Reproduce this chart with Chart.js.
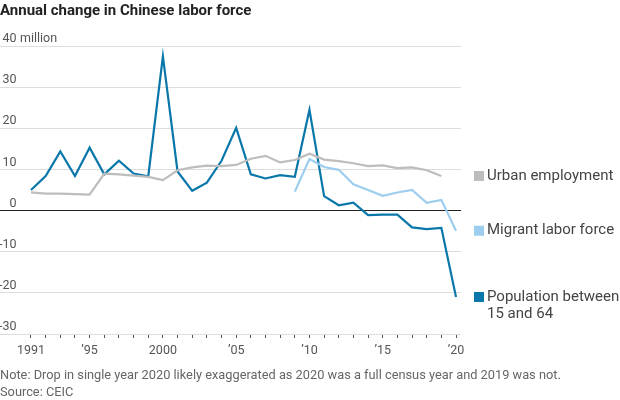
<!DOCTYPE html>
<html>
<head>
<meta charset="utf-8">
<script src="https://cdn.jsdelivr.net/npm/chart.js@4"></script>
<style>
  body { margin: 0; background: #fff; }
  #wrap { position: relative; width: 620px; height: 400px; font-family: Roboto, sans-serif; }
  #title { position: absolute; left: 0; top: 1px; font-size: 15px; font-weight: bold; color: #222; }
  #note { position: absolute; left: 0; top: 366px; font-size: 12.8px; color: #666; line-height: 17px; }
  canvas { position: absolute; left: 0; top: 0; }
</style>
</head>
<body>
<div id="wrap">
  <canvas id="chart" width="620" height="400"></canvas>
  <div id="title">Annual change in Chinese labor force</div>
  <div id="note">Note: Drop in single year 2020 likely exaggerated as 2020 was a full census year and 2019 was not.<br>Source: CEIC</div>
</div>
<script>
const years = [1991, 1992, 1993, 1994, 1995, 1996, 1997, 1998, 1999, 2000,
               2001, 2002, 2003, 2004, 2005, 2006, 2007, 2008, 2009, 2010,
               2011, 2012, 2013, 2014, 2015, 2016, 2017, 2018, 2019, 2020];
const urban = [4.4, 4.1, 4.1, 4.0, 3.9, 9.0, 8.8, 8.5, 8.2, 7.4,
               9.8, 10.5, 10.9, 10.8, 11.1, 12.6, 13.3, 11.7, 12.3, 13.8,
               12.4, 12.0, 11.5, 10.8, 11.0, 10.3, 10.5, 9.8, 8.4, null];
const migrant = [null, null, null, null, null, null, null, null, null, null,
                 null, null, null, null, null, null, null, null, 4.6, 12.5,
                 10.6, 9.9, 6.4, 5.0, 3.6, 4.4, 5.0, 1.9, 2.6, -4.9];
const population = [5.0, 8.4, 14.4, 8.4, 15.3, 8.8, 12.1, 9.0, 8.3, 37.5,
                    9.5, 4.8, 6.8, 12.1, 20.1, 8.8, 7.8, 8.6, 8.2, 24.5,
                    3.5, 1.3, 1.9, -1.1, -1.0, -1.0, -4.1, -4.5, -4.2, -21.0];
const xTickLabels = { 1991: '1991', 1995: '\u201995', 2000: '2000', 2005: '\u201905',
                      2010: '\u201910', 2015: '\u201915', 2020: '\u201920' };

const seriesNames = ['Urban employment', 'Migrant labor force', ['Population between', '15 and 64']];
const seriesColors = ['#bdbdbd', '#9dcdef', '#0a77aa'];
const seriesData = [urban, migrant, population];

function toPoints(values) {
    return years.map((y, i) => ({ x: y, y: values[i] }));
}

// draws "million" after the top tick and the legend at each line's last value
const extras = {
    id: 'extras',
    afterDraw(chart) {
        const ctx = chart.ctx;
        const yScale = chart.scales.y;
        ctx.save();
        ctx.font = '12.5px Roboto, sans-serif';
        ctx.fillStyle = '#555';
        ctx.textBaseline = 'middle';
        ctx.textAlign = 'left';
        ctx.fillText('million', 20, yScale.getPixelForValue(40) - 7);

        ctx.font = '15px Roboto, sans-serif';
        seriesData.forEach((vals, i) => {
            let last = null;
            for (let k = vals.length - 1; k >= 0; k--) {
                if (vals[k] !== null) { last = vals[k]; break; }
            }
            const py = yScale.getPixelForValue(last);
            ctx.fillStyle = seriesColors[i];
            ctx.fillRect(474, py - 5, 10, 10);
            ctx.fillStyle = '#444';
            const lines = Array.isArray(seriesNames[i]) ? seriesNames[i] : [seriesNames[i]];
            lines.forEach((t, j) => ctx.fillText(t, 487, py + j * 17));
        });
        ctx.restore();
    }
};

new Chart(document.getElementById('chart'), {
    type: 'line',
    data: {
        datasets: seriesData.map((vals, i) => ({
            label: Array.isArray(seriesNames[i]) ? seriesNames[i].join(' ') : seriesNames[i],
            data: toPoints(vals),
            borderColor: seriesColors[i],
            borderWidth: 2.2,
            pointRadius: 0,
            tension: 0,
            spanGaps: false
        }))
    },
    options: {
        responsive: false,
        animation: false,
        layout: { padding: { left: 0, top: 46, right: 159, bottom: 42 } },
        plugins: { legend: { display: false }, tooltip: { enabled: false } },
        scales: {
            x: {
                type: 'linear',
                min: 1988.885,
                max: 2020.34,
                afterBuildTicks: axis => { axis.ticks = years.map(v => ({ value: v })); },
                afterFit: axis => { axis.height = 24; },
                border: { display: false },
                grid: { drawOnChartArea: false, drawTicks: true, tickLength: 4, color: '#555' },
                ticks: {
                    autoSkip: false,
                    maxRotation: 0,
                    padding: 5,
                    color: '#555',
                    font: { family: 'Roboto, sans-serif', size: 12.5 },
                    callback: v => xTickLabels[v] || ''
                }
            },
            y: {
                min: -30,
                max: 40,
                afterFit: axis => { axis.width = 0; },
                border: { display: false },
                grid: {
                    drawTicks: false,
                    color: ctx => ctx.tick && ctx.tick.value === 0 ? '#222' : '#ddd'
                },
                ticks: {
                    stepSize: 10,
                    mirror: true,
                    crossAlign: 'far',
                    padding: -1,
                    labelOffset: -7,
                    color: '#555',
                    font: { family: 'Roboto, sans-serif', size: 12.5 }
                }
            }
        }
    },
    plugins: [extras]
});
</script>
</body>
</html>
